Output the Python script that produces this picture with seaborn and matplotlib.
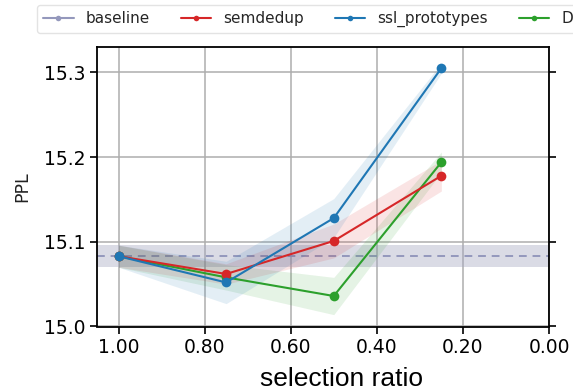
import matplotlib
matplotlib.use("Agg")
import matplotlib.pyplot as plt
from matplotlib.lines import Line2D
import numpy as np
import pandas as pd
import seaborn as sns

# Selection ratios evaluated
ratios = [1.0, 0.75, 0.5, 0.25]

# Perplexity of the model trained on the full data
baseline_ppl = 15.083
baseline_err = 0.013

# Mean perplexity per method and half-width of its spread across runs
semdedup_ppl = [15.083, 15.062, 15.101, 15.178]
semdedup_err = [0.013, 0.012, 0.020, 0.018]

ssl_ppl = [15.083, 15.052, 15.128, 15.305]
ssl_err = [0.013, 0.025, 0.023, 0.006]

d4_ppl = [15.083, 15.058, 15.036, 15.194]
d4_err = [0.013, 0.015, 0.022, 0.012]

methods = ["baseline", "semdedup", "ssl_prototypes", "D4"]
colors = {
    "baseline": "#9498bc",
    "semdedup": "#d62728",
    "ssl_prototypes": "#1f77b4",
    "D4": "#2ca02c",
}

series = {
    "D4": (d4_ppl, d4_err),
    "semdedup": (semdedup_ppl, semdedup_err),
    "ssl_prototypes": (ssl_ppl, ssl_err),
}

rows = []
for name, (vals, errs) in series.items():
    for r, v, e in zip(ratios, vals, errs):
        rows.append({"method": name, "ratio": r, "ppl": v, "err": e})
df = pd.DataFrame(rows)

sns.set_style("whitegrid", {
    "axes.edgecolor": "black",
    "grid.color": "#adadad",
    "xtick.bottom": True,
    "ytick.left": True,
    "xtick.color": "black",
    "ytick.color": "black",
})
plt.rcParams["font.family"] = ["DejaVu Sans"]

fig = plt.figure(figsize=(5.73, 3.91), dpi=100)
ax = fig.add_axes([97 / 573, 1 - 326.5 / 391, 452 / 573, 279.5 / 391])

# Full-data reference: dashed level with its spread
ax.axhspan(baseline_ppl - baseline_err, baseline_ppl + baseline_err,
           color="#a4a6c0", alpha=0.4, lw=0, zorder=1)
ax.axhline(baseline_ppl, color=colors["baseline"], ls=(0, (4, 3)), lw=1.4,
           zorder=2)

for name in series:
    sub = df[df["method"] == name]
    ax.fill_between(sub["ratio"], sub["ppl"] - sub["err"], sub["ppl"] + sub["err"],
                    color=colors[name], alpha=0.12, lw=0, zorder=2)

sns.lineplot(data=df, x="ratio", y="ppl", hue="method",
             hue_order=list(series.keys()), palette=colors,
             marker="o", markersize=7, markeredgewidth=0, linewidth=1.5,
             errorbar=None, legend=False, sort=False, ax=ax, zorder=3)

ax.set_xlim(1.05, 0.0)
ax.set_ylim(15.0, 15.33)
ax.set_xticks([1.0, 0.8, 0.6, 0.4, 0.2, 0.0])
ax.set_xticklabels(["1.00", "0.80", "0.60", "0.40", "0.20", "0.00"])
ax.set_yticks([15.0, 15.1, 15.2, 15.3])
ax.set_yticklabels(["15.0", "15.1", "15.2", "15.3"])
ax.tick_params(axis="both", which="major", direction="out", length=5,
               width=1.2, labelsize=13.5, right=True, labelright=False)
for s in ax.spines.values():
    s.set_linewidth(1.3)
    s.set_color("black")
ax.grid(True, lw=1.1)

ax.set_ylabel("PPL", fontsize=12.5, color="#222222")
ax.yaxis.set_label_coords((22.5 - 97) / 452, 0.5)
ax.yaxis.label.set_va("center")

ax.set_xlabel("selection ratio", fontsize=19, family=["Liberation Sans"],
              color="black")
ax.xaxis.set_label_coords((341 - 97) / 452, (326.5 - 386) / 279.5)
ax.xaxis.label.set_va("baseline")

handles = [Line2D([], [], color=colors[m], marker="o", markersize=4,
                  markeredgewidth=0, lw=1.5) for m in methods]
fig.legend(handles, methods, loc="upper left", ncol=4, fontsize=11,
           bbox_to_anchor=(37 / 573, 1 - 5 / 391),
           bbox_transform=fig.transFigure, frameon=True,
           edgecolor="#dddddd", fancybox=True, borderaxespad=0)

fig.savefig("out.png", dpi=100)
